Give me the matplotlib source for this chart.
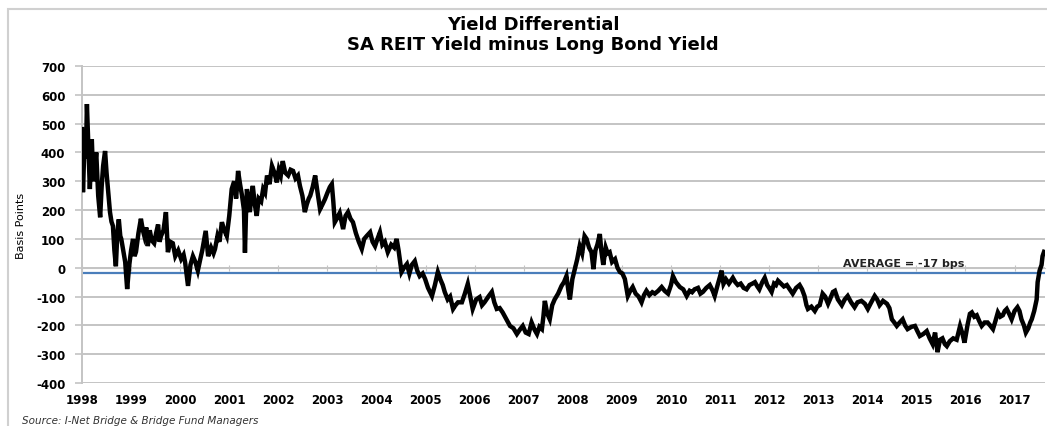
import matplotlib
matplotlib.use("Agg")
import matplotlib.pyplot as plt
from matplotlib.patches import Rectangle

# Decimal year and yield differential (bps)
dates = [
    1998.00, 1998.02, 1998.05, 1998.08, 1998.10, 1998.13, 1998.16, 1998.20, 1998.23, 1998.26,
    1998.29, 1998.33, 1998.37, 1998.40, 1998.43, 1998.47, 1998.50, 1998.53, 1998.57, 1998.60,
    1998.63, 1998.66, 1998.69, 1998.72, 1998.75, 1998.78, 1998.80, 1998.84, 1998.88, 1998.92,
    1998.96, 1999.00, 1999.04, 1999.07, 1999.10, 1999.15, 1999.20, 1999.24, 1999.27, 1999.31,
    1999.34, 1999.38, 1999.42, 1999.47, 1999.51, 1999.55, 1999.58, 1999.61, 1999.66, 1999.71,
    1999.75, 1999.80, 1999.85, 1999.90, 1999.96, 2000.02, 2000.07, 2000.10, 2000.16, 2000.21,
    2000.26, 2000.31, 2000.36, 2000.41, 2000.45, 2000.49, 2000.52, 2000.57, 2000.63, 2000.68,
    2000.71, 2000.76, 2000.80, 2000.85, 2000.90, 2000.95, 2001.00, 2001.05, 2001.10, 2001.14,
    2001.18, 2001.22, 2001.26, 2001.30, 2001.32, 2001.34, 2001.36, 2001.39, 2001.42, 2001.45,
    2001.48, 2001.52, 2001.56, 2001.60, 2001.65, 2001.69, 2001.73, 2001.77, 2001.82, 2001.87,
    2001.92, 2001.97, 2002.01, 2002.05, 2002.09, 2002.14, 2002.20, 2002.25, 2002.30, 2002.35,
    2002.40, 2002.44, 2002.49, 2002.54, 2002.58, 2002.62, 2002.65, 2002.70, 2002.75, 2002.80,
    2002.85, 2002.90, 2002.95, 2003.00, 2003.05, 2003.09, 2003.12, 2003.15, 2003.19, 2003.25,
    2003.32, 2003.37, 2003.42, 2003.47, 2003.52, 2003.58, 2003.64, 2003.70, 2003.75, 2003.80,
    2003.87, 2003.92, 2003.97, 2004.02, 2004.07, 2004.12, 2004.17, 2004.23, 2004.30, 2004.36,
    2004.41, 2004.45, 2004.51, 2004.56, 2004.62, 2004.67, 2004.72, 2004.78, 2004.83, 2004.88,
    2004.94, 2004.99, 2005.05, 2005.13, 2005.19, 2005.25, 2005.30, 2005.35, 2005.39, 2005.45,
    2005.50, 2005.56, 2005.61, 2005.66, 2005.74, 2005.80, 2005.86, 2005.91, 2005.96, 2006.03,
    2006.10, 2006.15, 2006.20, 2006.28, 2006.35, 2006.40, 2006.45, 2006.51, 2006.57, 2006.65,
    2006.72, 2006.79, 2006.86, 2006.92, 2006.98, 2007.04, 2007.10, 2007.16, 2007.22, 2007.27,
    2007.32, 2007.37, 2007.40, 2007.43, 2007.48, 2007.53, 2007.58, 2007.63, 2007.70, 2007.77,
    2007.82, 2007.87, 2007.91, 2007.94, 2007.99, 2008.04, 2008.09, 2008.14, 2008.19, 2008.24,
    2008.28, 2008.33, 2008.38, 2008.42, 2008.46, 2008.50, 2008.55, 2008.58, 2008.62, 2008.67,
    2008.71, 2008.75, 2008.80, 2008.86, 2008.91, 2008.96, 2009.01, 2009.06, 2009.12, 2009.17,
    2009.22, 2009.28, 2009.34, 2009.40, 2009.45, 2009.50, 2009.56, 2009.62, 2009.67, 2009.74,
    2009.81, 2009.87, 2009.94, 2010.00, 2010.04, 2010.10, 2010.18, 2010.25, 2010.32, 2010.38,
    2010.43, 2010.48, 2010.55, 2010.60, 2010.65, 2010.72, 2010.79, 2010.85, 2010.89, 2010.95,
    2011.00, 2011.03, 2011.07, 2011.12, 2011.18, 2011.22, 2011.26, 2011.31, 2011.36, 2011.42,
    2011.48, 2011.54, 2011.60, 2011.66, 2011.71, 2011.76, 2011.80, 2011.86, 2011.91, 2011.96,
    2012.00, 2012.05, 2012.10, 2012.14, 2012.18, 2012.24, 2012.30, 2012.36, 2012.42, 2012.48,
    2012.55, 2012.62, 2012.67, 2012.72, 2012.76, 2012.79, 2012.86, 2012.93, 2012.98, 2013.03,
    2013.09, 2013.14, 2013.20, 2013.25, 2013.30, 2013.34, 2013.40, 2013.48, 2013.54, 2013.60,
    2013.67, 2013.74, 2013.80, 2013.88, 2013.95, 2014.01, 2014.08, 2014.15, 2014.20, 2014.25,
    2014.32, 2014.40, 2014.45, 2014.50, 2014.55, 2014.60, 2014.66, 2014.72, 2014.77, 2014.82,
    2014.90, 2014.97, 2015.02, 2015.07, 2015.14, 2015.21, 2015.27, 2015.33, 2015.38, 2015.43,
    2015.48, 2015.53, 2015.58, 2015.62, 2015.68, 2015.75, 2015.82, 2015.89, 2015.94, 2015.98,
    2016.04, 2016.09, 2016.13, 2016.18, 2016.23, 2016.28, 2016.33, 2016.39, 2016.45, 2016.50,
    2016.56, 2016.61, 2016.66, 2016.71, 2016.76, 2016.80, 2016.84, 2016.89, 2016.94, 2017.00,
    2017.06, 2017.10, 2017.14, 2017.19, 2017.23, 2017.28, 2017.32, 2017.35, 2017.40, 2017.45,
    2017.47, 2017.51, 2017.55, 2017.57, 2017.60,
]
spread = [
    481, 262, 430, 380, 568, 420, 273, 446, 300, 342,
    400, 250, 175, 280, 353, 405, 330, 273, 193, 160,
    145, 60, 5, 120, 168, 110, 100, 60, 20, -74,
    5, 60, 100, 40, 55, 120, 170, 130, 110, 140,
    75, 130, 95, 85, 120, 150, 90, 110, 130, 193,
    54, 90, 85, 40, 60, 30, 45, 20, -63, 10,
    40, 20, -10, 30, 60, 100, 128, 40, 70, 50,
    65, 110, 90, 158, 130, 110, 180, 273, 300, 240,
    336, 290, 250, 200, 52, 180, 273, 230, 193, 250,
    284, 220, 180, 240, 230, 273, 260, 320, 290, 353,
    330, 296, 340, 320, 370, 330, 320, 340, 336, 310,
    320, 284, 250, 193, 220, 240, 250, 280, 320, 260,
    203, 220, 238, 260, 280, 290, 230, 158, 170, 190,
    134, 180, 193, 170, 158, 120, 90, 65, 100, 110,
    123, 90, 75, 100, 123, 80, 90, 54, 80, 70,
    100, 60, -15, 0, 13, -20, 10, 23, -10, -29,
    -20, -39, -70, -98, -60, -15, -40, -60, -84, -110,
    -100, -143, -130, -120, -120, -90, -56, -100, -143, -110,
    -102, -130, -120, -100, -84, -120, -143, -140, -155, -180,
    -202, -210, -230, -215, -202, -225, -230, -190, -215, -230,
    -205, -213, -170, -115, -160, -179, -130, -110, -90, -63,
    -50, -29, -80, -110, -40, -5, 30, 75, 50, 110,
    100, 70, 54, -5, 60, 80, 117, 60, 10, 70,
    50, 54, 20, 30, 0, -15, -20, -39, -98, -80,
    -67, -90, -100, -120, -95, -80, -95, -85, -90, -80,
    -67, -80, -90, -60, -29, -50, -67, -75, -98, -80,
    -85, -75, -70, -90, -84, -70, -60, -80, -98, -60,
    -30, -10, -56, -40, -55, -45, -35, -50, -60, -55,
    -70, -75, -60, -55, -50, -65, -75, -50, -35, -60,
    -70, -84, -55, -60, -45, -55, -65, -60, -75, -90,
    -70, -60, -75, -98, -130, -143, -135, -150, -135, -130,
    -90, -100, -125, -105, -84, -80, -110, -130, -110, -98,
    -120, -137, -120, -115, -125, -143, -120, -98, -110, -130,
    -115, -125, -140, -179, -190, -202, -190, -179, -200, -213,
    -205, -202, -220, -237, -230, -220, -245, -265, -225, -293,
    -250, -245, -265, -272, -255, -245, -250, -202, -230, -260,
    -200, -160, -155, -170, -165, -185, -202, -190, -190, -200,
    -213, -185, -155, -170, -165, -150, -143, -160, -179, -150,
    -137, -150, -179, -200, -225, -210, -190, -179, -150, -110,
    -50, -10, 10, 40, 55,
]
average = -17
years = list(range(1998, 2018))
yticks = list(range(-400, 701, 100))

grid_col = "#c4c4c4"
fig = plt.figure(figsize=(10.47, 4.27), dpi=100)
ax = fig.add_axes([82/1047, 1 - 384/427, 963/1047, 317/427])

for v in yticks:
    ax.axhline(v, color=grid_col, lw=1.4, zorder=1)
ax.axhline(average, color="#4a7ebb", lw=1.6, zorder=2)
ax.plot(dates, spread, color="black", lw=3.2, solid_joinstyle="miter", zorder=3)

ax.set_xlim(1998, 2017.62)
ax.set_ylim(-400, 700)
ax.set_yticks(yticks)
ax.set_yticklabels([str(v) for v in yticks], fontsize=8.5, fontweight="bold")
ax.tick_params(axis="y", length=5, color=grid_col, width=1.2, pad=7)

# category axis crosses at zero, labels sit at the bottom
ax.spines["bottom"].set_position(("data", 0))
ax.spines["bottom"].set_color(grid_col)
ax.spines["left"].set_color(grid_col)
ax.spines["left"].set_linewidth(1.4)
for s in ["top", "right"]:
    ax.spines[s].set_visible(False)
ax.set_xticks(years)
ax.tick_params(axis="x", direction="inout", length=5, color=grid_col, labelbottom=False)

sec = ax.secondary_xaxis("bottom")
sec.set_xticks(years)
sec.set_xticklabels([str(y) for y in years], fontsize=8.5, fontweight="bold")
sec.tick_params(length=0, pad=7)
sec.spines["bottom"].set_visible(False)

ax.set_ylabel("Basis Points", fontsize=8, family=["Liberation Sans Narrow", "DejaVu Sans"])
ax.yaxis.set_label_coords(-0.058, 0.5)

ax.annotate("AVERAGE = -17 bps", xy=(2014.75, average), xytext=(0, 3),
            textcoords="offset points", ha="center", va="bottom",
            fontsize=8, fontweight="bold", color="#222222")

fig.text(533/1047, 1 - 25/427, "Yield Differential", ha="center", va="center",
         fontsize=13, fontweight="bold")
fig.text(533/1047, 1 - 45/427, "SA REIT Yield minus Long Bond Yield", ha="center",
         va="center", fontsize=13, fontweight="bold")
fig.text(22/1047, 1 - 421/427, "Source: I-Net Bridge & Bridge Fund Managers", ha="left",
         va="center", fontsize=7.5, style="italic", color="#333333")

fig.patches.append(Rectangle((8/1047, -0.1), 1.1, 1.1 - 10/427, transform=fig.transFigure,
                             fill=False, edgecolor="#d0d0d0", lw=1.5))

fig.savefig("out.png", dpi=100)
